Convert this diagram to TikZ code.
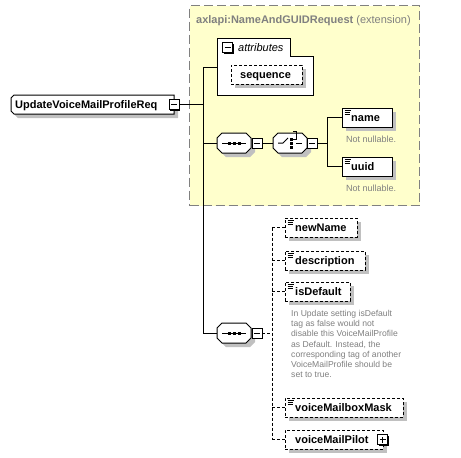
\documentclass[tikz,border=0pt]{standalone}
\usepackage{fontspec}
\setmainfont{Liberation Sans}
\usetikzlibrary{shadows}
\definecolor{bgyellow}{RGB}{255,255,204}
\definecolor{framegray}{RGB}{128,128,128}
\definecolor{shadowgray}{RGB}{192,192,192}
\definecolor{notegray}{RGB}{128,128,128}
\tikzset{
  shad/.style={general shadow={fill=shadowgray, shadow xshift=4pt, shadow yshift=-4pt}},
  elbase/.style={draw=black, fill=white, line width=1pt, rectangle, anchor=north west, inner sep=0pt, outer sep=0pt, shad},
  elicon/.style={path picture={
      \draw[solid, line width=0.8pt] ([xshift=2.5pt,yshift=-2pt]path picture bounding box.north west) -- ++(6pt,0);
      \draw[solid, line width=0.8pt] ([xshift=2.5pt,yshift=-4pt]path picture bounding box.north west) -- ++(5pt,0);
      \draw[solid, line width=0.8pt] ([xshift=2.5pt,yshift=-6pt]path picture bounding box.north west) -- ++(5pt,0);}},
  reqel/.style={elbase, elicon},
  optel/.style={elbase, elicon, dash pattern=on 3pt off 2pt},
  optplain/.style={elbase, dash pattern=on 3pt off 2pt},
  hold/.style={rectangle, inner sep=0pt, outer sep=0pt, anchor=north west},
  shapeline/.style={draw=black, fill=white, line width=1pt},
  mbox/.style={draw=black, fill=white, line width=1pt, rectangle, minimum size=10pt, inner sep=0pt, outer sep=0pt,
      general shadow={fill=black, shadow xshift=1pt, shadow yshift=-1pt},
      path picture={\draw[line width=1pt] ([xshift=2pt]path picture bounding box.west) -- ([xshift=-2pt]path picture bounding box.east);}},
  pbox/.style={mbox,
      path picture={\draw[line width=1pt] ([xshift=2pt]path picture bounding box.west) -- ([xshift=-2pt]path picture bounding box.east);
                    \draw[line width=1pt] ([yshift=2pt]path picture bounding box.south) -- ([yshift=-2pt]path picture bounding box.north);}},
  lab/.style={anchor=base west, inner sep=0pt, font=\bfseries\fontsize{11}{13}\selectfont},
  note/.style={anchor=base west, inner sep=0pt, text=notegray, font=\fontsize{9}{11}\selectfont},
  conn/.style={draw=black, line width=1pt},
  dconn/.style={draw=black, line width=1pt, dash pattern=on 3pt off 2pt},
}
% octagon compositor: name, x0, y0, w, h, chamfer
\newcommand\octa[6]{%
  \fill[shadowgray] (#2+#6+4,#3+4) -- (#2+#4-#6+4,#3+4) -- (#2+#4+4,#3+#6+4) -- (#2+#4+4,#3+#5-#6+4)
     -- (#2+#4-#6+4,#3+#5+4) -- (#2+#6+4,#3+#5+4) -- (#2+4,#3+#5-#6+4) -- (#2+4,#3+#6+4) -- cycle;
  \path[shapeline] (#2+#6,#3) -- (#2+#4-#6,#3) -- (#2+#4,#3+#6) -- (#2+#4,#3+#5-#6)
     -- (#2+#4-#6,#3+#5) -- (#2+#6,#3+#5) -- (#2,#3+#5-#6) -- (#2,#3+#6) -- cycle;
  \node[hold, minimum width=#4pt, minimum height=#5pt] (#1) at (#2,#3) {};}
\begin{document}
\begin{tikzpicture}[x=1pt,y=-1pt]
\useasboundingbox (0,0) rectangle (461,458);
\fill[white] (0,0) rectangle (461,458);
% extension frame
\node[draw=framegray, fill=bgyellow, line width=1.3pt, dash pattern=on 9pt off 4pt, rectangle,
      anchor=north west, minimum width=230pt, minimum height=200pt, inner sep=0pt] (ext) at (189,5) {};
\node[anchor=base west, inner sep=0pt, text=framegray, font=\fontsize{11}{13}\selectfont] (exttitle) at (196,23)
   {\textbf{axlapi:NameAndGUIDRequest} (extension)};
% main element (left corners chamfered)
\fill[shadowgray] (11+3+4,95+4) -- (174+4,95+4) -- (174+4,114+4) -- (11+3+4,114+4) -- (11+4,114-3+4) -- (11+4,95+3+4) -- cycle;
\path[shapeline] (11+3,95) -- (174,95) -- (174,114) -- (11+3,114) -- (11,114-3) -- (11,95+3) -- cycle;
\node[hold, minimum width=163pt, minimum height=19pt] (main) at (11,95) {};
\node[lab] (mainlab) at (15,108.5) {UpdateVoiceMailProfileReq};
\node[mbox] (mainm) at (174,104.5) {};
\coordinate (vtop) at (203,67);
\coordinate (vbot) at (203,333);
\draw[conn] (mainm.east) -- (mainm.east -| vtop);
\draw[conn] (vtop) -- (vbot);
% attributes
\coordinate (attr) at (217,67);
\draw[conn] (vtop) -- (attr);
\draw[line width=1pt, fill=white] (217,38) -- (290,38) -- (290,56) -- (313,56) -- (313,95) -- (217,95) -- cycle;
\node[mbox] (attrm) at (227.5,47.5) {};
\node[anchor=base west, inner sep=0pt, font=\itshape\fontsize{11}{13}\selectfont] (attrlab) at (238,51.5) {attributes};
\node[optplain, minimum width=71pt, minimum height=19pt] (seqattr) at (231,65) {};
\node[lab] (seqattrlab) at (240,78.5) {sequence};
% sequence + choice in extension
\octa{c1}{217}{133}{34}{20}{5}
\draw[line width=1pt] ([xshift=5pt]c1.west) -- ([xshift=-5pt]c1.east);
\foreach \dx in {12,17,22} \fill ([xshift=\dx pt]c1.west) ++(-1.5,-1.5) rectangle ++(3,3);
\node[mbox] (c1m) at (257,143) {};
\draw[conn] (vtop |- c1.west) -- (c1.west);
\octa{c2}{273}{133}{34}{20}{5}
\draw[line width=1pt] ([xshift=5pt]c2.west) -- ++(5,0) -- ++(5,-5);
\foreach \dy in {-4,0,4} \fill ([xshift=18pt,yshift=\dy pt]c2.west) ++(-1.5,-1.5) rectangle ++(3,3);
\draw[line width=1pt] ([xshift=20pt,yshift=4pt]c2.west) -- ++(3,0) -- ++(0,-8) -- ++(-3,0);
\draw[line width=1pt] ([xshift=23pt]c2.west) -- ([xshift=-5pt]c2.east);
\node[mbox] (c2m) at (312,143) {};
\draw[conn] (c1m.east) -- (c2.west);
\coordinate (v2top) at (327,117.5);
\coordinate (v2bot) at (327,166.5);
\draw[conn] (c2m.east) -- (c2m.east -| v2top);
\draw[conn] (v2top) -- (v2bot);
\node[reqel, minimum width=50pt, minimum height=19pt] (name) at (342,108) {};
\node[lab] (namelab) at (351,121.5) {name};
\node[note] (namenote) at (346,142.5) {Not nullable.};
\node[reqel, minimum width=50pt, minimum height=19pt] (uuid) at (342,157) {};
\node[lab] (uuidlab) at (351,170.5) {uuid};
\node[note] (uuidnote) at (346,191.5) {Not nullable.};
\draw[conn] (v2top) -- (v2top -| name.west);
\draw[conn] (v2bot) -- (v2bot -| uuid.west);
% second sequence
\octa{c3}{217}{323}{34}{20}{5}
\draw[line width=1pt] ([xshift=5pt]c3.west) -- ([xshift=-5pt]c3.east);
\foreach \dx in {12,17,22} \fill ([xshift=\dx pt]c3.west) ++(-1.5,-1.5) rectangle ++(3,3);
\node[mbox] (c3m) at (257,333) {};
\draw[conn] (vbot) -- (c3.west);
\coordinate (v3top) at (272,227.5);
\coordinate (v3bot) at (272,439.5);
\draw[dconn] (c3m.east) -- (c3m.east -| v3top);
\draw[dconn] (v3top) -- (v3bot);
\node[optel, minimum width=72pt, minimum height=19pt] (newName) at (285,218) {};
\node[lab] (newNamelab) at (295,231.5) {newName};
\node[optel, minimum width=80pt, minimum height=19pt] (description) at (285,251) {};
\node[lab] (descriptionlab) at (295,264.5) {description};
\node[optel, minimum width=65pt, minimum height=19pt] (isDefault) at (285,282) {};
\node[lab] (isDefaultlab) at (295,295.5) {isDefault};
\node[anchor=north west, inner sep=0pt, text=notegray, align=left, font=\fontsize{8.6}{10.3}\selectfont] (doc) at (291,309.7)
  {In Update setting isDefault\\tag as false would not\\disable this VoiceMailProfile\\as Default. Instead, the\\corresponding tag of another\\VoiceMailProfile should be\\set to true.};
\node[optel, minimum width=118pt, minimum height=19pt] (mask) at (285,398) {};
\node[lab] (masklab) at (295,411.5) {voiceMailboxMask};
\node[optplain, minimum width=98pt, minimum height=19pt] (pilot) at (285,430) {};
\node[lab] (pilotlab) at (295,443.5) {voiceMailPilot};
\node[pbox] (pilotp) at (382.5,439.5) {};
\foreach \n in {newName,description,isDefault,mask,pilot}
  \draw[dconn] (v3top |- \n.west) -- (\n.west);
\end{tikzpicture}
\end{document}
